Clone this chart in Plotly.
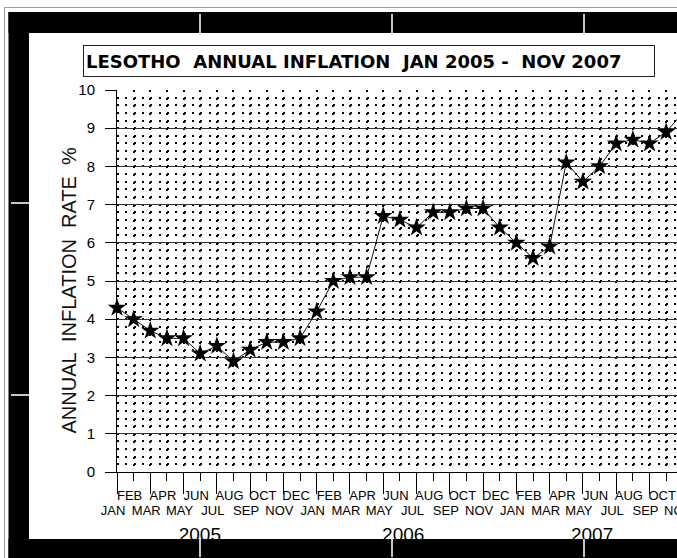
import plotly.graph_objects as go

# ---- data -------------------------------------------------------------
month_names = ["JAN", "FEB", "MAR", "APR", "MAY", "JUN",
               "JUL", "AUG", "SEP", "OCT", "NOV", "DEC"]
years = ["2005", "2006", "2007"]
months_in_year = [12, 12, 11]          # Jan 2005 .. Nov 2007
inflation = [4.3, 4.0, 3.7, 3.5, 3.5, 3.1, 3.3, 2.9, 3.2, 3.4, 3.4, 3.5,
             4.2, 5.0, 5.1, 5.1, 6.7, 6.6, 6.4, 6.8, 6.8, 6.9, 6.9, 6.4,
             6.0, 5.6, 5.9, 8.1, 7.6, 8.0, 8.6, 8.7, 8.6, 8.9, 9.4]
y_ticks = list(range(0, 11))

# ---- layout constants ---------------------------------------------------
FIG_W, FIG_H = 677, 558
M_L, M_R, M_T, M_B = 117, 0, 90, 86
PLOT_W = FIG_W - M_L - M_R
PLOT_H = FIG_H - M_T - M_B
MONTH_PX = 16.64                       # horizontal spacing of one month
X_MAX = PLOT_W / MONTH_PX
YEAR_CENTRES = [4.98, 17.2, 28.55]     # where the year captions sit
LABEL_SHIFT = -4                       # month captions sit a little left of their tick
FONT = "Liberation Sans, Arial, sans-serif"

labels = [m for n in months_in_year for m in month_names[:n]]
idx = list(range(len(inflation)))


def fx(px):
    """page pixel x -> paper fraction"""
    return (px - M_L) / PLOT_W


def fy(py):
    """page pixel y -> paper fraction"""
    return (FIG_H - M_B - py) / PLOT_H


fig = go.Figure()
fig.add_trace(go.Scatter(
    x=idx, y=inflation, mode="lines+markers",
    line=dict(color="#111111", width=1),
    marker=dict(symbol="star", size=14, color="black", line=dict(width=0)),
    cliponaxis=False, showlegend=False, hoverinfo="skip"))

# dotted monthly columns; the dotted rows come from the y minor grid
dot_x = dict(showgrid=True, gridcolor="black", gridwidth=2, griddash="2px,5.64px")
month_font = dict(family=FONT, size=13, color="black")

fig.update_layout(
    width=FIG_W, height=FIG_H,
    margin=dict(l=M_L, r=M_R, t=M_T, b=M_B, autoexpand=False),
    paper_bgcolor="white", plot_bgcolor="white",
    showlegend=False,
    xaxis=dict(range=[0, X_MAX], tickmode="array",
               tickvals=idx[0::2], ticktext=labels[0::2],
               ticks="outside", ticklen=21, tickwidth=1, tickcolor="black",
               showline=True, linecolor="black", linewidth=1,
               zeroline=False, tickangle=0, automargin=False,
               ticklabelstandoff=5, ticklabelshift=LABEL_SHIFT,
               ticklabeloverflow="allow", tickfont=month_font, **dot_x),
    xaxis2=dict(overlaying="x", anchor="y", side="bottom", range=[0, X_MAX],
                tickmode="array", tickvals=idx[1::2], ticktext=labels[1::2],
                ticks="outside", ticklen=8, tickwidth=1, tickcolor="black",
                showline=False, zeroline=False, tickangle=0, automargin=False,
                ticklabelstandoff=3, ticklabelshift=LABEL_SHIFT,
                ticklabeloverflow="allow", tickfont=month_font, **dot_x),
    xaxis3=dict(overlaying="x", anchor="y", side="bottom", range=[0, X_MAX],
                tickmode="array", tickvals=YEAR_CENTRES, ticktext=years,
                ticks="", showline=False, showgrid=False, zeroline=False,
                tickangle=0, automargin=False, ticklabelstandoff=49,
                tickfont=dict(family=FONT, size=19, color="black")),
    yaxis=dict(range=[0, 10], tickmode="array", tickvals=y_ticks,
               ticks="outside", ticklen=11, tickwidth=1, tickcolor="black",
               showline=True, linecolor="black", linewidth=1,
               showgrid=True, gridcolor="#333333", gridwidth=1,
               zeroline=False, automargin=False, ticklabelstandoff=7,
               tickfont=dict(family=FONT, size=15, color="black"),
               minor=dict(tick0=0, dtick=0.2, ticks="", showgrid=True,
                          gridcolor="black", gridwidth=2,
                          griddash="2px,6.32px")),
)

# empty traces so the overlaid axes are laid out
fig.add_trace(go.Scatter(x=[None], y=[None], xaxis="x2", showlegend=False))
fig.add_trace(go.Scatter(x=[None], y=[None], xaxis="x3", showlegend=False))

# chart title in a framed box
fig.add_annotation(
    xref="paper", yref="paper", x=fx(83), y=fy(45),
    xanchor="left", yanchor="top", showarrow=False,
    text="LESOTHO  ANNUAL INFLATION  JAN 2005 -  NOV 2007",
    width=566, height=26, align="left", valign="middle",
    borderpad=2, borderwidth=1, bordercolor="#222222", bgcolor="white",
    font=dict(family="DejaVu Sans, sans-serif", size=18, color="black",
              weight="bold"))

# vertical axis caption
fig.add_annotation(
    xref="paper", yref="paper", x=fx(68.5), y=fy(290),
    xanchor="center", yanchor="middle", showarrow=False, textangle=-90,
    text="ANNUAL  INFLATION  RATE  %",
    font=dict(family=FONT, size=20, color="#111111"))

# last month caption, running off the right edge like its axis
fig.add_annotation(
    xref="paper", yref="paper", x=idx[-1] / X_MAX, xshift=LABEL_SHIFT,
    y=fy(510), xanchor="center", yanchor="middle", showarrow=False,
    text=labels[-1], font=month_font)

# heavy black frame with light tick notches
frame = [
    dict(type="line", x0=fx(4.5), x1=fx(4.5), y0=fy(7.5), y1=fy(600),
         line=dict(color="#9a9a9a", width=1)),
    dict(type="line", x0=fx(4.5), x1=fx(720), y0=fy(7.5), y1=fy(7.5),
         line=dict(color="#9a9a9a", width=1)),
    dict(type="rect", x0=fx(8.5), x1=fx(720), y0=fy(12), y1=fy(33),
         fillcolor="black", line=dict(width=0)),
    dict(type="rect", x0=fx(8.5), x1=fx(29), y0=fy(12), y1=fy(600),
         fillcolor="black", line=dict(width=0)),
    dict(type="rect", x0=fx(8.5), x1=fx(720), y0=fy(539), y1=fy(600),
         fillcolor="black", line=dict(width=0)),
]
for px in (200, 392, 584):
    frame.append(dict(type="line", x0=fx(px), x1=fx(px), y0=fy(14), y1=fy(33),
                      line=dict(color="#c8c8c8", width=2)))
    frame.append(dict(type="line", x0=fx(px), x1=fx(px), y0=fy(539), y1=fy(557),
                      line=dict(color="#c8c8c8", width=2)))
for py in (203, 395):
    frame.append(dict(type="line", x0=fx(11), x1=fx(29), y0=fy(py), y1=fy(py),
                      line=dict(color="#c8c8c8", width=2)))
for s in frame:
    s.update(xref="paper", yref="paper", layer="above")
fig.update_layout(shapes=frame)

fig.write_html("out.html")
